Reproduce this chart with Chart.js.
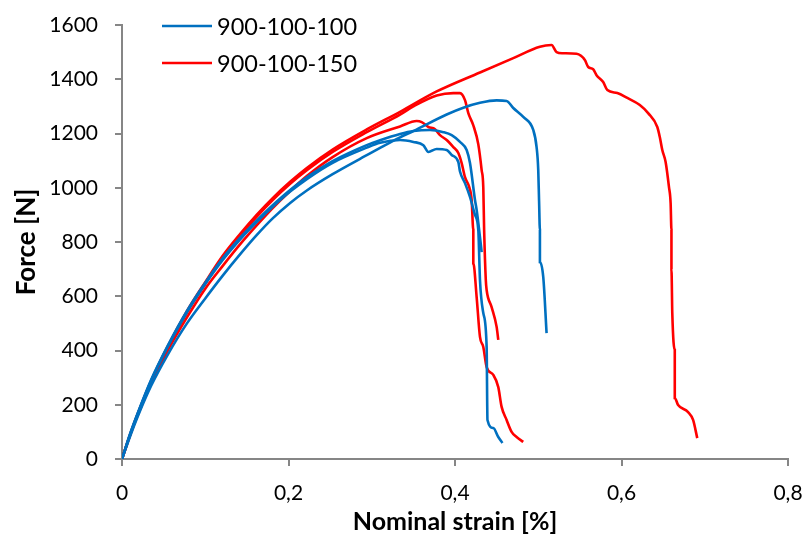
<!DOCTYPE html>
<html lang="en">
<head>
  <meta charset="UTF-8">
  <title>Force vs nominal strain</title>
  <script src="https://cdn.jsdelivr.net/npm/chart.js"></script>
  <style>
    body { margin: 0; background: #fff; }
    #wrap { width: 806px; height: 537px; position: relative; }
  </style>
</head>
<body>
  <div id="wrap"><canvas id="chart"></canvas></div>
  <script>
    // series labels
    const seriesNames = ['900-100-100', '900-100-150'];

    // 900-100-100 specimens: [strain %, force N]
    const blue1 = [[0,0],[0.01,86],[0.02,165],[0.035,270],[0.055,385],[0.078,500],[0.1,592],[0.121,676],[0.142,755],[0.162,826],[0.181,887],[0.202,944],[0.222,990],[0.253,1050],[0.294,1120],[0.31,1147],[0.334,1186],[0.35,1209],[0.39,1270],[0.41,1295],[0.43,1313],[0.45,1322],[0.462,1320],[0.47,1294],[0.482,1261],[0.494,1213],[0.498,1150],[0.5,1065],[0.501,950],[0.502,844],[0.502,726],[0.506,671],[0.51,464]];
    const blue2 = [[0,0],[0.01,95],[0.02,178],[0.035,292],[0.055,418],[0.078,546],[0.1,650],[0.121,740],[0.142,816],[0.162,880],[0.181,936],[0.202,992],[0.222,1038],[0.253,1098],[0.294,1157],[0.31,1175],[0.334,1198],[0.35,1209],[0.37,1213],[0.386,1205],[0.396,1194],[0.406,1169],[0.414,1139],[0.418,1091],[0.424,955],[0.426,918],[0.43,818],[0.432,763]];
    const blue3 = [[0,0],[0.01,94],[0.02,176],[0.035,289],[0.055,414],[0.078,541],[0.1,645],[0.121,734],[0.142,810],[0.162,874],[0.181,930],[0.202,986],[0.222,1032],[0.253,1092],[0.294,1148],[0.31,1166],[0.334,1176],[0.35,1169],[0.362,1157],[0.368,1132],[0.378,1143],[0.39,1139],[0.396,1121],[0.404,1095],[0.406,1060],[0.412,1017],[0.418,966],[0.424,900],[0.428,844],[0.43,660],[0.434,538],[0.438,413],[0.439,144],[0.446,114],[0.452,81],[0.457,59]];

    // 900-100-150 specimens
    const red1 = [[0,0],[0.01,92],[0.02,175],[0.035,287],[0.055,415],[0.078,545],[0.1,652],[0.121,749],[0.142,830],[0.162,901],[0.181,962],[0.202,1022],[0.222,1073],[0.253,1141],[0.294,1215],[0.334,1280],[0.378,1355],[0.43,1425],[0.47,1478],[0.502,1520],[0.516,1526],[0.522,1500],[0.529,1496],[0.546,1494],[0.556,1471],[0.56,1445],[0.566,1437],[0.57,1415],[0.578,1390],[0.583,1360],[0.595,1349],[0.607,1331],[0.622,1305],[0.632,1275],[0.643,1224],[0.646,1187],[0.649,1139],[0.653,1095],[0.657,1003],[0.659,944],[0.66,844],[0.66,700],[0.661,538],[0.664,402],[0.664,225],[0.668,199],[0.68,173],[0.686,144],[0.691,77]];
    const red2 = [[0,0],[0.01,91],[0.02,173],[0.035,284],[0.055,411],[0.078,540],[0.1,646],[0.121,742],[0.142,823],[0.162,894],[0.181,955],[0.202,1015],[0.222,1065],[0.253,1132],[0.294,1205],[0.334,1270],[0.35,1300],[0.378,1340],[0.398,1349],[0.406,1349],[0.412,1323],[0.416,1275],[0.422,1230],[0.428,1160],[0.432,1065],[0.434,1000],[0.435,844],[0.437,660],[0.438,623],[0.444,560],[0.45,487],[0.452,439]];
    const red3 = [[0,0],[0.01,90],[0.02,170],[0.035,278],[0.055,400],[0.078,522],[0.1,628],[0.121,712],[0.142,792],[0.162,862],[0.181,925],[0.202,988],[0.222,1043],[0.253,1113],[0.294,1183],[0.334,1226],[0.354,1246],[0.36,1242],[0.368,1224],[0.376,1216],[0.382,1194],[0.39,1176],[0.398,1150],[0.404,1128],[0.408,1091],[0.412,1039],[0.417,1003],[0.42,955],[0.422,844],[0.422,722],[0.426,597],[0.43,450],[0.434,413],[0.438,339],[0.446,310],[0.452,265],[0.456,192],[0.462,144],[0.468,100],[0.474,81],[0.482,63]];

    const xTicks = [0, 0.2, 0.4, 0.6, 0.8];
    const yTicks = [0, 200, 400, 600, 800, 1000, 1200, 1400, 1600];

    const BLUE = '#0070C0';
    const RED = '#FF0000';
    const AXIS = '#868686';
    const FONT = 'Lato, "Open Sans", sans-serif';

    function pts(arr) {
      return arr.map(p => ({x: p[0], y: p[1]}));
    }

    function curve(name, arr, color) {
      return {
        label: name,
        data: pts(arr),
        showLine: true,
        borderColor: color,
        backgroundColor: color,
        borderWidth: 2.6,
        pointRadius: 0,
        cubicInterpolationMode: 'monotone',
        fill: false
      };
    }

    // legend drawn inside the plot, top-left
    const insideLegend = {
      id: 'insideLegend',
      afterDraw(chart) {
        const ctx = chart.ctx;
        const a = chart.chartArea;
        const items = [[seriesNames[0], BLUE], [seriesNames[1], RED]];
        ctx.save();
        ctx.font = '23.5px ' + FONT;
        ctx.textBaseline = 'middle';
        items.forEach((it, i) => {
          const y = a.top + 1 + i * 37;
          const x0 = a.left + 40;
          ctx.strokeStyle = it[1];
          ctx.lineWidth = 2.6;
          ctx.beginPath();
          ctx.moveTo(x0, y);
          ctx.lineTo(x0 + 50, y);
          ctx.stroke();
          ctx.fillStyle = '#000';
          ctx.fillText(it[0], x0 + 55, y + 1);
        });
        ctx.restore();
      }
    };

    new Chart(document.getElementById('chart'), {
      type: 'scatter',
      data: {
        datasets: [
          curve(seriesNames[0], blue1, BLUE),
          curve(seriesNames[0], blue2, BLUE),
          curve(seriesNames[0], blue3, BLUE),
          curve(seriesNames[1], red1, RED),
          curve(seriesNames[1], red2, RED),
          curve(seriesNames[1], red3, RED)
        ]
      },
      options: {
        responsive: true,
        maintainAspectRatio: false,
        animation: false,
        layout: { padding: { top: 25, right: 18, left: 0, bottom: 0 } },
        plugins: {
          legend: { display: false },
          tooltip: { enabled: false }
        },
        scales: {
          x: {
            type: 'linear',
            min: 0,
            max: 0.8,
            afterBuildTicks: s => { s.ticks = xTicks.map(v => ({value: v})); },
            afterFit: s => { s.height = 78; s.paddingLeft = 0; s.paddingRight = 16; },
            grid: { drawOnChartArea: false, drawTicks: true, tickLength: 7, color: AXIS, lineWidth: 2 },
            border: { display: true, color: AXIS, width: 2 },
            ticks: {
              color: '#000',
              font: { family: FONT, size: 21 },
              padding: 15,
              maxRotation: 0,
              callback: v => v === 0 ? '0' : v.toFixed(1).replace('.', ',')
            },
            title: {
              display: true,
              text: 'Nominal strain [%]',
              color: '#000',
              font: { family: FONT, size: 25, weight: 'bold' },
              padding: { top: 0, bottom: 0 }
            }
          },
          y: {
            type: 'linear',
            min: 0,
            max: 1600,
            afterBuildTicks: s => { s.ticks = yTicks.map(v => ({value: v})); },
            afterFit: s => { s.width = 122; s.paddingTop = 12; s.paddingBottom = 12; },
            grid: { drawOnChartArea: false, drawTicks: true, tickLength: 7, color: AXIS, lineWidth: 2 },
            border: { display: true, color: AXIS, width: 2 },
            ticks: {
              color: '#000',
              font: { family: FONT, size: 21 },
              padding: 17,
              callback: v => String(v)
            },
            title: {
              display: true,
              text: 'Force [N]',
              color: '#000',
              font: { family: FONT, size: 26, weight: 'bold' },
              padding: { top: 11, bottom: 0 }
            }
          }
        }
      },
      plugins: [insideLegend]
    });
  </script>
</body>
</html>
